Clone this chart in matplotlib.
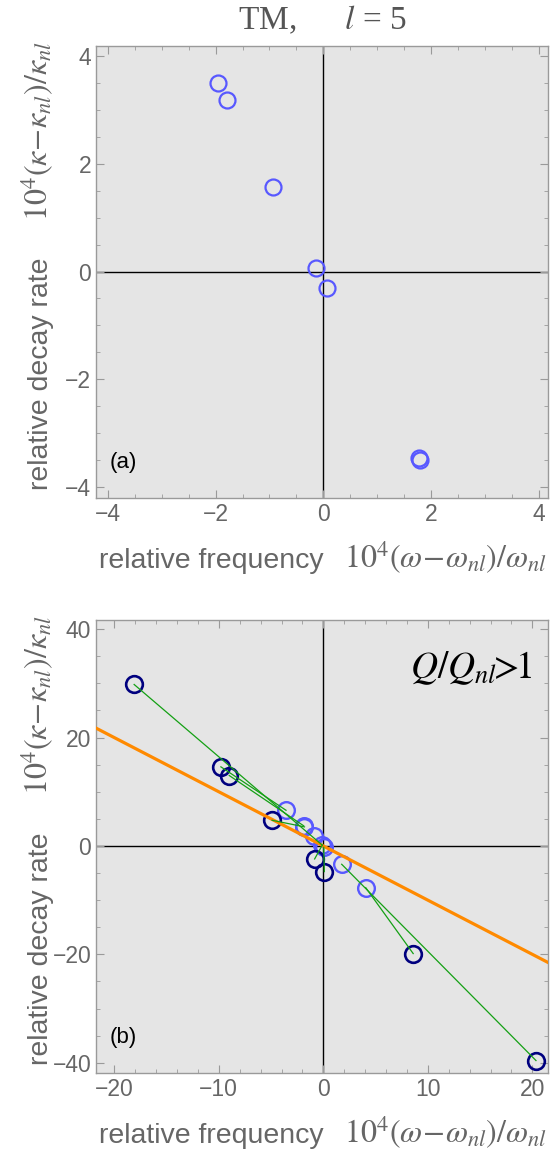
import matplotlib
matplotlib.use("Agg")
import matplotlib.pyplot as plt
import matplotlib.ticker as mtick

plt.rcParams['font.family'] = ['Liberation Sans', 'DejaVu Sans']
plt.rcParams['mathtext.fontset'] = 'stix'

# PANEL (a): relative frequency / relative decay rate (x 10^4)
a_freq = [-1.95, -1.78, -0.94, -0.14, 0.06, 1.77, 1.79]
a_decay = [3.49, 3.18, 1.57, 0.07, -0.31, -3.45, -3.49]

# PANEL (b): light = finite Q, dark = Q/Qnl > 1 end points
b_freq_light = [-3.57, -1.88, -1.80, -0.89, -0.10, 0.04, 1.76, 4.06]
b_decay_light = [6.59, 3.72, 3.52, 1.79, 0.15, -0.25, -3.38, -7.70]
b_freq_dark = [-18.1, -9.8, -9.0, -4.9, -0.83, 0.10, 8.6, 20.35]
b_decay_dark = [29.8, 14.6, 13.0, 4.74, -2.4, -4.73, -19.86, -39.6]
link = [4, 0, 1, 2, 4, 5, 7, 6]   # which light point each dark point joins
fit_slope = -1.0                   # orange line through the origin

light = '#5858ff'
dark = '#00007f'
green = '#14a014'
orange = '#ff8a00'
grey_txt = '#666666'
frame = '#9a9a9a'

xlab_sans = 'relative frequency'
xlab_math = r'$10^4(\omega\!-\!\omega_{nl})/\omega_{nl}$'
ylab_sans = 'relative decay rate'
ylab_math = r'$10^4(\kappa\!-\!\kappa_{nl})/\kappa_{nl}$'

fig = plt.figure(figsize=(5.5, 11.52), dpi=100)
W, H = 550.0, 1152.0
ax1 = fig.add_axes([96 / W, 1 - 498 / H, 452 / W, 452.4 / H])
ax2 = fig.add_axes([96 / W, 1 - 1073 / H, 452 / W, 453 / H])


def style(ax, xmaj, xmin, ymaj, ymin):
    ax.set_facecolor('#e5e5e5')
    for s in ax.spines.values():
        s.set_color(frame)
        s.set_linewidth(1.0)
    ax.xaxis.set_major_locator(mtick.MultipleLocator(xmaj))
    ax.xaxis.set_minor_locator(mtick.MultipleLocator(xmin))
    ax.yaxis.set_major_locator(mtick.MultipleLocator(ymaj))
    ax.yaxis.set_minor_locator(mtick.MultipleLocator(ymin))
    ax.tick_params(which='both', direction='in', top=True, right=True,
                   color=frame, labelcolor=grey_txt, labelsize=16.5)
    ax.tick_params(which='major', length=6, width=0.8, pad=3.5)
    ax.tick_params(which='minor', length=3, width=0.6)
    ax.axhline(0, color='black', lw=1.0, zorder=1)
    ax.axvline(0, color='black', lw=1.0, zorder=1)
    # axis labels: sans words + serif formula
    ax.text(0.0066, -0.155, xlab_sans, transform=ax.transAxes, ha='left',
            va='baseline', fontsize=20.5, color=grey_txt)
    ax.text(0.998, -0.155, xlab_math, transform=ax.transAxes, ha='right',
            va='baseline', fontsize=23, color=grey_txt)
    ax.text(-0.106, 0.018, ylab_sans, transform=ax.transAxes, ha='left',
            va='baseline', rotation=90, rotation_mode='anchor',
            fontsize=20.5, color=grey_txt)
    ax.text(-0.106, 1.01, ylab_math, transform=ax.transAxes, ha='right',
            va='baseline', rotation=90, rotation_mode='anchor',
            fontsize=23, color=grey_txt)


# PANEL (a)
style(ax1, 2, 0.5, 2, 0.5)
ax1.set_xlim(-4.22, 4.17)
ax1.set_ylim(-4.2, 4.19)
ax1.plot(a_freq, a_decay, 'o', mfc='none', mec=light, ms=11.5, mew=1.6,
         zorder=3)
ax1.text(0.031, 0.066, '(a)', transform=ax1.transAxes, fontsize=16,
         color='black', va='baseline')
ax1.set_title(r'TM,$\qquad l$ = 5', fontsize=24, color='#555555',
              family='Liberation Serif', pad=12)

# PANEL (b)
style(ax2, 10, 2, 20, 5)
ax2.set_xlim(-21.75, 21.5)
ax2.set_ylim(-41.9, 41.7)
ax2.axline((0, 0), slope=fit_slope, color=orange, lw=2.3, zorder=3)
for i, j in enumerate(link):
    ax2.plot([b_freq_dark[i], b_freq_light[j]],
             [b_decay_dark[i], b_decay_light[j]], color=green, lw=0.9,
             zorder=4)
ax2.plot(b_freq_light, b_decay_light, 'o', mfc='none', mec=light, ms=12,
         mew=1.7, zorder=2.5)
ax2.plot(b_freq_dark, b_decay_dark, 'o', mfc='none', mec=dark, ms=12,
         mew=1.9, zorder=2.5)
ax2.text(0.031, 0.066, '(b)', transform=ax2.transAxes, fontsize=16,
         color='black', va='baseline')
ax2.text(0.965, 0.872, r'$Q/Q_{nl}\!\!{>}\!\!1$', transform=ax2.transAxes,
         ha='right', va='baseline', fontsize=27, color='black')

fig.savefig('out.png', dpi=100)
